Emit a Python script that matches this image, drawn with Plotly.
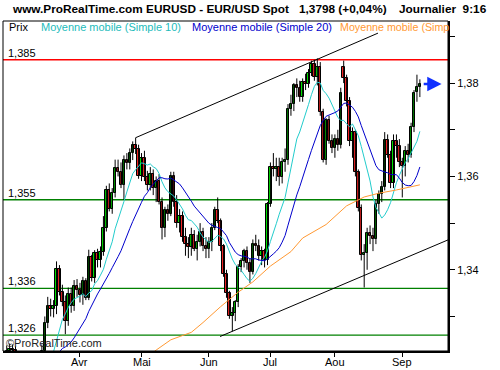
import numpy as np
import pandas as pd
import plotly.graph_objects as go

# ---------------- data ----------------
dates = pd.bdate_range("2007-02-23", "2007-09-11")

opens = [1.3160,1.3185,1.3225,1.3230,1.3228,1.3190,1.3150,1.3110,1.3160,1.3175,
         1.3115,1.3110,1.3170,1.3210,1.3225,1.3287,1.3322,1.3315,1.3322,1.3402,
         1.3352,1.3332,1.3290,1.3348,1.3322,1.3366,1.3357,1.3345,1.3375,1.3340,
         1.3428,1.3382,1.3435,1.3420,1.3438,1.3490,1.3572,1.3530,1.3565,1.3618,
         1.3610,1.3582,1.3636,1.3628,1.3650,1.3668,1.3658,1.3602,1.3640,1.3598,
         1.3582,1.3605,1.3575,1.3590,1.3545,1.3490,1.3528,1.3520,1.3600,1.3545,
         1.3500,1.3515,1.3470,1.3455,1.3448,1.3475,1.3445,1.3460,1.3480,1.3450,
         1.3445,1.3460,1.3490,1.3528,1.3505,1.3450,1.3392,1.3350,1.3302,1.3308,
         1.3330,1.3405,1.3418,1.3440,1.3415,1.3395,1.3455,1.3452,1.3430,1.3440,
         1.3420,1.3540,1.3620,1.3615,1.3620,1.3598,1.3630,1.3635,1.3745,1.3755,
         1.3795,1.3790,1.3770,1.3802,1.3798,1.3822,1.3840,1.3812,1.3835,1.3738,
         1.3636,1.3720,1.3675,1.3660,1.3680,1.3668,1.3835,1.3810,1.3762,1.3675,
         1.3695,1.3610,1.3533,1.3432,1.3436,1.3478,1.3472,1.3466,1.3540,1.3562,
         1.3578,1.3678,1.3645,1.3585,1.3675,1.3665,1.3630,1.3622,1.3655,1.3645,
         1.3705,1.3780,1.3792]
highs = [1.3195,1.3238,1.3242,1.3240,1.3236,1.3212,1.3160,1.3175,1.3195,1.3185,
         1.3140,1.3180,1.3218,1.3240,1.3300,1.3342,1.3338,1.3335,1.3418,1.3410,
         1.3368,1.3345,1.3362,1.3362,1.3378,1.3380,1.3372,1.3385,1.3382,1.3443,
         1.3432,1.3442,1.3445,1.3450,1.3515,1.3580,1.3585,1.3575,1.3636,1.3636,
         1.3630,1.3645,1.3650,1.3660,1.3675,1.3683,1.3668,1.3650,1.3655,1.3612,
         1.3620,1.3615,1.3600,1.3605,1.3555,1.3535,1.3540,1.3610,1.3610,1.3560,
         1.3530,1.3525,1.3490,1.3470,1.3490,1.3485,1.3475,1.3500,1.3490,1.3470,
         1.3470,1.3500,1.3535,1.3555,1.3510,1.3455,1.3400,1.3355,1.3320,1.3335,
         1.3412,1.3425,1.3445,1.3450,1.3425,1.3465,1.3475,1.3465,1.3450,1.3445,
         1.3545,1.3630,1.3650,1.3640,1.3640,1.3640,1.3660,1.3755,1.3775,1.3800,
         1.3810,1.3805,1.3810,1.3820,1.3830,1.3848,1.3850,1.3853,1.3845,1.3745,
         1.3725,1.3730,1.3690,1.3690,1.3700,1.3790,1.3848,1.3818,1.3770,1.3705,
         1.3700,1.3615,1.3540,1.3455,1.3490,1.3495,1.3490,1.3550,1.3570,1.3590,
         1.3695,1.3690,1.3655,1.3690,1.3690,1.3680,1.3640,1.3665,1.3670,1.3715,
         1.3785,1.3818,1.3808]
lows = [1.3140,1.3170,1.3195,1.3205,1.3170,1.3140,1.3080,1.3100,1.3140,1.3100,
        1.3090,1.3105,1.3160,1.3190,1.3215,1.3275,1.3300,1.3298,1.3305,1.3345,
        1.3322,1.3262,1.3280,1.3308,1.3312,1.3342,1.3330,1.3325,1.3335,1.3335,
        1.3375,1.3372,1.3405,1.3405,1.3430,1.3482,1.3525,1.3520,1.3555,1.3600,
        1.3575,1.3550,1.3615,1.3615,1.3635,1.3648,1.3595,1.3590,1.3590,1.3570,
        1.3570,1.3560,1.3545,1.3540,1.3465,1.3470,1.3505,1.3515,1.3535,1.3490,
        1.3480,1.3460,1.3430,1.3425,1.3430,1.3440,1.3420,1.3450,1.3440,1.3425,
        1.3425,1.3440,1.3485,1.3500,1.3440,1.3385,1.3340,1.3295,1.3268,1.3290,
        1.3320,1.3395,1.3405,1.3400,1.3372,1.3390,1.3440,1.3420,1.3410,1.3405,
        1.3410,1.3535,1.3600,1.3590,1.3580,1.3585,1.3610,1.3625,1.3730,1.3740,
        1.3770,1.3760,1.3760,1.3785,1.3790,1.3815,1.3805,1.3795,1.3730,1.3630,
        1.3625,1.3670,1.3650,1.3640,1.3655,1.3660,1.3800,1.3750,1.3665,1.3640,
        1.3600,1.3525,1.3420,1.3362,1.3400,1.3455,1.3440,1.3455,1.3520,1.3545,
        1.3570,1.3640,1.3575,1.3575,1.3640,1.3620,1.3555,1.3600,1.3630,1.3640,
        1.3695,1.3760,1.3770]
closes = [1.3185,1.3225,1.3230,1.3228,1.3190,1.3150,1.3110,1.3160,1.3175,1.3115,
          1.3110,1.3170,1.3210,1.3225,1.3287,1.3322,1.3315,1.3322,1.3402,1.3352,
          1.3332,1.3290,1.3348,1.3322,1.3366,1.3357,1.3345,1.3375,1.3340,1.3428,
          1.3382,1.3435,1.3420,1.3438,1.3490,1.3572,1.3530,1.3565,1.3618,1.3610,
          1.3582,1.3636,1.3628,1.3650,1.3668,1.3658,1.3602,1.3640,1.3598,1.3582,
          1.3605,1.3575,1.3590,1.3545,1.3490,1.3528,1.3520,1.3600,1.3545,1.3500,
          1.3515,1.3470,1.3455,1.3448,1.3475,1.3445,1.3460,1.3480,1.3450,1.3445,
          1.3460,1.3490,1.3528,1.3505,1.3450,1.3392,1.3350,1.3302,1.3308,1.3330,
          1.3405,1.3418,1.3440,1.3415,1.3395,1.3455,1.3452,1.3430,1.3440,1.3420,
          1.3540,1.3620,1.3615,1.3620,1.3598,1.3630,1.3635,1.3745,1.3755,1.3795,
          1.3790,1.3770,1.3802,1.3798,1.3822,1.3840,1.3812,1.3835,1.3738,1.3636,
          1.3720,1.3675,1.3660,1.3680,1.3668,1.3778,1.3810,1.3762,1.3675,1.3695,
          1.3610,1.3533,1.3432,1.3436,1.3478,1.3472,1.3466,1.3540,1.3562,1.3578,
          1.3678,1.3645,1.3585,1.3675,1.3665,1.3630,1.3622,1.3655,1.3645,1.3705,
          1.3778,1.3792,1.3798]

# Simple 100 moving average (orange), read at sample dates
ma100_dates = ["2007-05-04","2007-05-08","2007-05-15","2007-05-24","2007-05-30",
               "2007-06-07","2007-06-15","2007-06-22","2007-07-02","2007-07-11",
               "2007-07-17","2007-07-27","2007-08-07","2007-08-15","2007-08-22",
               "2007-08-30","2007-09-11"]
ma100_vals = [1.3218,1.3228,1.3250,1.3266,1.3287,1.3321,1.3352,1.3374,1.3408,1.3439,
              1.3468,1.3497,1.3537,1.3556,1.3564,1.3571,1.3582]

month_labels = {4: "Avr", 5: "Mai", 6: "Jun", 7: "Jul", 8: "Aou", 9: "Sep"}
levels = [1.385, 1.355, 1.336, 1.326]
level_labels = ["1,385", "1,355", "1,336", "1,326"]
ytick_vals = [1.33, 1.34, 1.35, 1.36, 1.37, 1.38, 1.39]
ytick_text = ["", "1,34", "", "1,36", "", "1,38", ""]

# channel (trend) lines: bar position, price
upper_chan_pos = [45.0, 127.7]
upper_chan_val = [1.3683, 1.3907]
lower_chan_pos = [73.8, 151.6]
lower_chan_val = [1.3257, 1.3464]

# ---------------- derived ----------------
n = len(dates)
assert len(opens) == len(highs) == len(lows) == len(closes) == n
pos = np.arange(n)
o = np.array(opens); h = np.array(highs); l = np.array(lows); c = np.array(closes)
sma10 = pd.Series(c).rolling(10).mean()
sma20 = pd.Series(c).rolling(20).mean()
date_to_pos = {d.strftime("%Y-%m-%d"): i for i, d in enumerate(dates)}
ma100_pos = [date_to_pos[d] for d in ma100_dates]

month_start = [i for i in range(1, n)
               if dates[i].month != dates[i - 1].month and dates[i].month in month_labels]

FONT = "Liberation Sans, Arial, sans-serif"
GREEN = "#00dd00"
RED = "#ee2424"

body_lo = np.minimum(o, c)
body_h = np.maximum(np.abs(c - o), 0.00006)
body_col = [GREEN if cc >= oo else RED for oo, cc in zip(o, c)]

wx, wy = [], []
for i in range(n):
    wx += [pos[i], pos[i], None]
    wy += [l[i], h[i], None]

fig = go.Figure()
fig.add_trace(go.Scatter(x=wx, y=wy, mode="lines", line=dict(color="black", width=1),
                         hoverinfo="skip"))
fig.add_trace(go.Bar(x=pos, y=body_h, base=body_lo, width=0.82,
                     marker=dict(color=body_col, line=dict(color="black", width=1)),
                     hoverinfo="skip"))
fig.add_trace(go.Scatter(x=pos, y=sma10, mode="lines", line=dict(color="#22cccc", width=1)))
fig.add_trace(go.Scatter(x=pos, y=sma20, mode="lines", line=dict(color="#0000cc", width=1)))
fig.add_trace(go.Scatter(x=ma100_pos, y=ma100_vals, mode="lines",
                         line=dict(color="#ff9933", width=1)))
fig.add_trace(go.Scatter(x=upper_chan_pos, y=upper_chan_val, mode="lines",
                         line=dict(color="black", width=1)))
fig.add_trace(go.Scatter(x=lower_chan_pos, y=lower_chan_val, mode="lines",
                         line=dict(color="black", width=1)))

# plot area geometry (px) for placing texts
PL, PR, PT, PB = 3, 448, 21, 351
def px_x(x): return (x - PL) / (PR - PL)
def px_y(y): return (PB - y) / (PB - PT)

shapes = []
for lv in levels:
    col = "#ff0000" if lv == max(levels) else "#008000"
    shapes.append(dict(type="line", xref="paper", yref="y", x0=0, x1=1, y0=lv, y1=lv,
                       line=dict(color=col, width=1.3), layer="below"))
shapes.append(dict(type="rect", xref="paper", yref="paper", x0=0, x1=1, y0=0, y1=1,
                   line=dict(color="black", width=1)))

ann = []
for lv, lab in zip(levels, level_labels):
    ann.append(dict(xref="paper", yref="y", x=px_x(6), y=lv, text=lab, showarrow=False,
                    xanchor="left", yanchor="bottom", yshift=-1,
                    font=dict(family=FONT, size=11, color="black")))

for i in month_start:
    ann.append(dict(xref="x", yref="paper", x=pos[i], y=px_y(362),
                    text=month_labels[dates[i].month], showarrow=False,
                    xanchor="center", yanchor="middle",
                    font=dict(family=FONT, size=11, color="black")))

legend_items = [("Prix", "black", 7, 11), ("Moyenne mobile (Simple 10)", "#22bbbb", 39, 11),
                ("Moyenne mobile (Simple 20)", "#0000cc", 190, 11),
                ("Moyenne mobile (Simp", "#ff9933", 338, 10.7)]
for txt, col, xp, fs in legend_items:
    ann.append(dict(xref="paper", yref="paper", x=px_x(xp), y=px_y(27), text=txt,
                    showarrow=False, xanchor="left", yanchor="middle",
                    font=dict(family=FONT, size=fs, color=col)))

chg = (c[-1] / c[-2] - 1) * 100
title_parts = [("www.ProRealTime.com EURUSD - EUR/USD Spot", 10),
               (f"{c[-1]:.4f}".replace(".", ",") + f" ({chg:+.2f}%)".replace(".", ","), 297),
               ("Journalier  9:16", 397)]
for txt, xp in title_parts:
    ann.append(dict(xref="paper", yref="paper", x=px_x(xp), y=px_y(9), text=f"<b>{txt}</b>",
                    showarrow=False, xanchor="left", yanchor="middle",
                    font=dict(family=FONT, size=11.8, color="black")))

ann.append(dict(xref="paper", yref="paper", x=px_x(4), y=px_y(343), text="©ProRealTime.com",
                showarrow=False, xanchor="left", yanchor="middle",
                font=dict(family=FONT, size=11, color="#222222")))

# blue arrow pointing at the last close
ann.append(dict(x=pos[-1] + 7.4, y=c[-1], ax=pos[-1] + 0.8, ay=c[-1], xref="x", yref="y",
                axref="x", ayref="y", text="", showarrow=True, arrowhead=2, arrowsize=1.1,
                arrowwidth=2.6, arrowcolor="#1030ff", standoff=0))

fig.update_layout(
    width=500, height=370, margin=dict(l=PL, r=500 - PR, t=PT, b=370 - PB, autoexpand=False),
    paper_bgcolor="white", plot_bgcolor="white", showlegend=False,
    font=dict(family=FONT, size=11, color="black"),
    shapes=shapes, annotations=ann, bargap=0,
    xaxis=dict(range=[-0.27, 151.6], tickvals=[pos[i] for i in month_start],
               showticklabels=False, automargin=False,
               ticks="outside", ticklen=4, tickcolor="black", showgrid=False,
               zeroline=False, showline=True, linewidth=2, linecolor="black",
               fixedrange=True),
    yaxis=dict(range=[1.3226, 1.3933], side="right", tickvals=ytick_vals,
               ticktext=ytick_text, ticks="outside", ticklen=5, tickcolor="black",
               showgrid=False, zeroline=False, showline=True, linewidth=2,
               linecolor="black", tickfont=dict(family=FONT, size=11, color="black"),
               automargin=False, fixedrange=True),
)

fig.write_html("out.html", config={"displayModeBar": False},
               post_script="document.body.style.margin='0px';")
